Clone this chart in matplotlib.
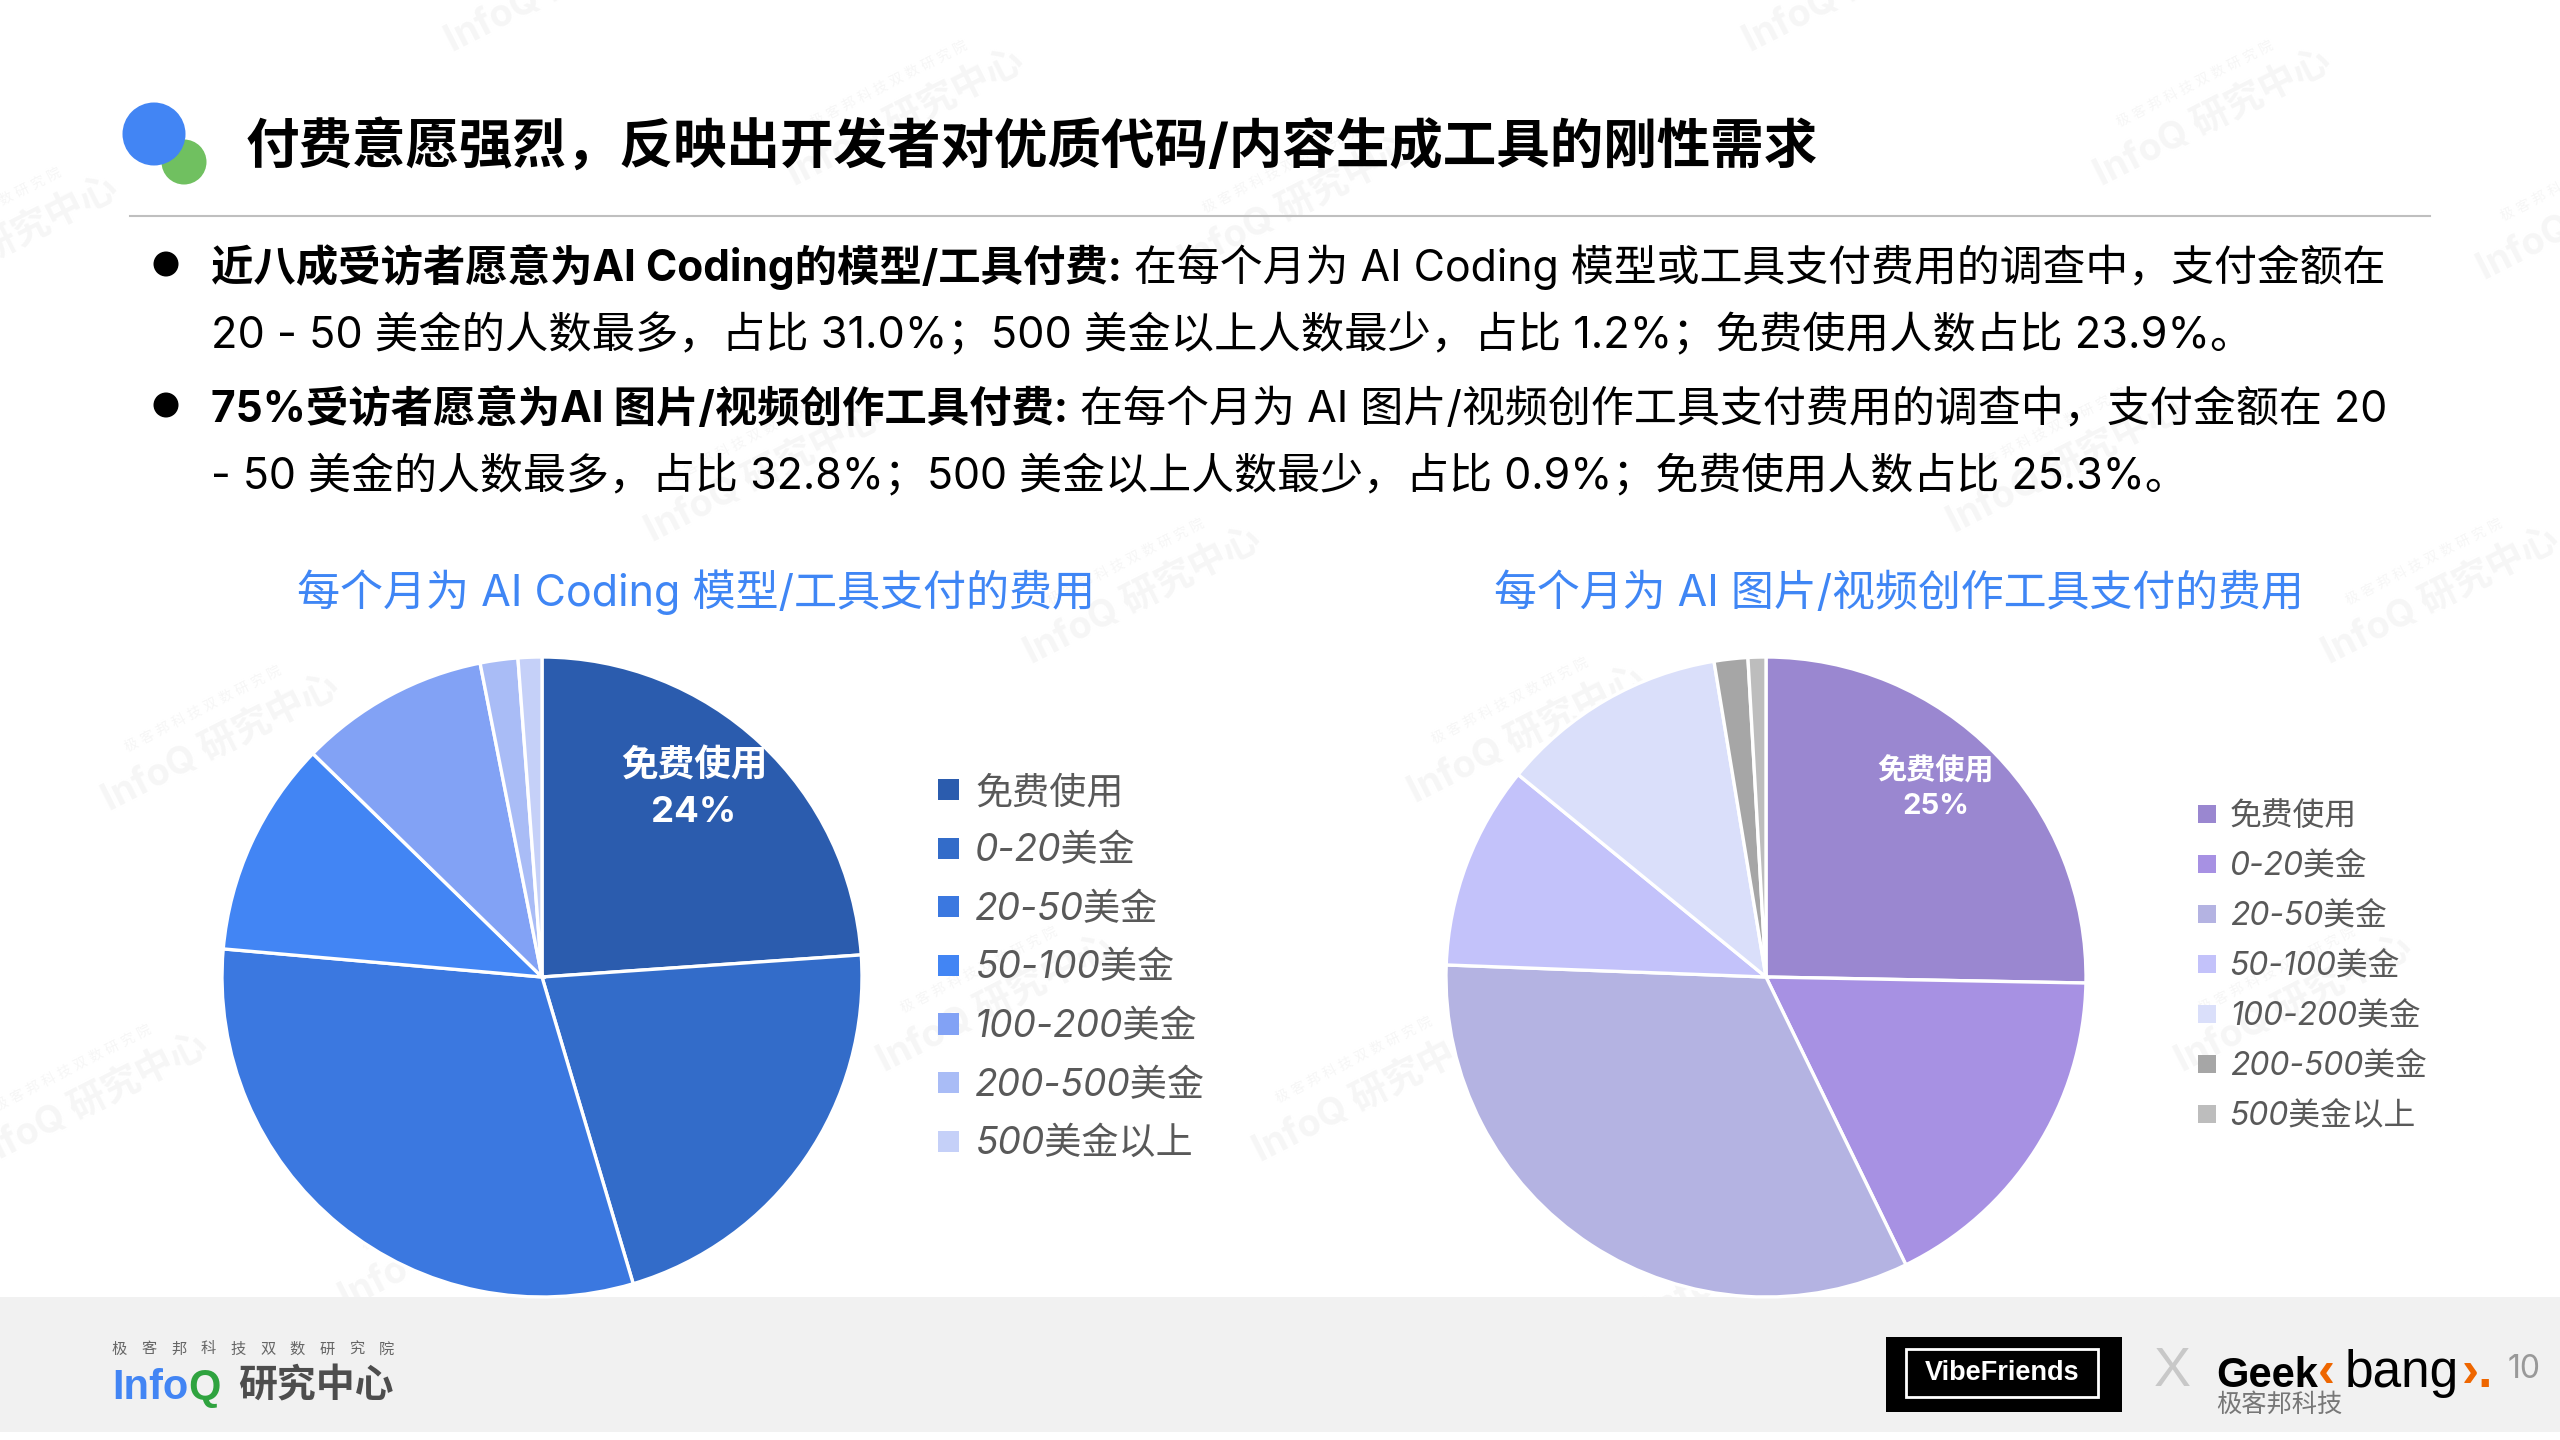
import matplotlib
matplotlib.use("Agg")
import matplotlib.pyplot as plt
from matplotlib.patches import Patch, Rectangle, Ellipse

FONTS = ['Inter', 'Noto Sans CJK SC', 'DejaVu Sans']
plt.rcParams['font.family'] = FONTS

# ---------- data ----------
categories = ['免费使用', '0-20美金', '20-50美金', '50-100美金', '100-200美金', '200-500美金', '500美金以上']
coding_values = [23.9, 21.5, 31.0, 10.9, 9.6, 1.9, 1.2]
image_values = [25.3, 17.5, 32.8, 10.3, 11.5, 1.7, 0.9]
coding_colors = ['#2b5cae', '#336cc9', '#3b78e0', '#4285f4', '#82a2f5', '#a9bcf6', '#c5d0f8']
image_colors = ['#9a87d0', '#a791e3', '#b4b3e2', '#c3c2fa', '#dadffa', '#a6a6a6', '#bdbdbd']
coding_title = '每个月为 AI Coding 模型/工具支付的费用'
image_title = '每个月为 AI 图片/视频创作工具支付的费用'
main_title = '付费意愿强烈，反映出开发者对优质代码/内容生成工具的刚性需求'
body_lines = [
    ('近八成受访者愿意为AI Coding的模型/工具付费:', '在每个月为 AI Coding 模型或工具支付费用的调查中，支付金额在'),
    ('', '20 - 50 美金的人数最多，占比 31.0%；500 美金以上人数最少，占比 1.2%；免费使用人数占比 23.9%。'),
    ('75%受访者愿意为AI 图片/视频创作工具付费:', '在每个月为 AI 图片/视频创作工具支付费用的调查中，支付金额在 20'),
    ('', '- 50 美金的人数最多，占比 32.8%；500 美金以上人数最少，占比 0.9%；免费使用人数占比 25.3%。'),
]
body_baselines = [281, 348, 422, 488]
body_sizes = [30.9, 31.2, 30.95, 30.95]
watermark_centers = [(1355, 72), (555, 72), (0, 150), (795, 125), (1590, 130), (700, 365), (1495, 365),
                     (135, 455), (935, 450), (468, 290), (1265, 285), (610, 615), (1405, 615), (55, 675),
                     (840, 670), (280, 760), (1080, 770), (345, -10), (1140, -10)]
institute = '极客邦科技双数研究院'

W, H = 2560, 1440
fig = plt.figure(figsize=(W / 100, H / 100), dpi=100, facecolor='white')
bg = fig.add_axes([0, 0, 1, 1], zorder=0)
bg.set_xlim(0, W)
bg.set_ylim(H, 0)
bg.axis('off')
fg = fig.add_axes([0, 0, 1, 1], zorder=2)
fg.set_xlim(0, W)
fg.set_ylim(H, 0)
fg.axis('off')
fg.patch.set_alpha(0)

# ---------- watermarks ----------
for wx, wy in watermark_centers:
    x, y = wx * W / 1568, wy * W / 1568
    bg.text(x, y, 'InfoQ 研究中心', fontsize=27, fontweight='bold', color='#f6f6f6', rotation=27,
            rotation_mode='anchor', ha='center', va='center', zorder=0)
    bg.text(x - 17, y - 34, '极 客 邦 科 技 双 数 研 究 院', fontsize=10, color='#f6f6f6', rotation=27,
            rotation_mode='anchor', ha='center', va='center', zorder=0)

# ---------- footer ----------
bg.add_patch(Rectangle((0, 1297), W, 135, facecolor='#f1f1f1', edgecolor='none', zorder=1))

# ---------- header ----------
bg.add_patch(Ellipse((184, 162), 45, 45, facecolor='#70c060', edgecolor='none', zorder=2))
bg.add_patch(Ellipse((154, 134), 63, 63, facecolor='#4285f4', edgecolor='none', zorder=3))
bg.text(246, 163, main_title, fontsize=38.55, fontweight='bold', color='#000000', ha='left', va='baseline', zorder=3)
bg.plot([130, 2430], [216, 216], color='#bfbfbf', lw=1.5, zorder=2)

# ---------- body ----------
fig.canvas.draw()
rend = fig.canvas.get_renderer()
for (bold, reg), yb, fs in zip(body_lines, body_baselines, body_sizes):
    x = 211
    if bold:
        t = bg.text(x, yb, bold, fontsize=30.55, fontweight='bold', color='#000000', ha='left', va='baseline', zorder=3)
        x = t.get_window_extent(rend).x1 + 12
        bg.add_patch(Ellipse((166, yb - 17), 25, 25, facecolor='black', edgecolor='none', zorder=3))
    bg.text(x, yb, reg, fontsize=fs, color='#000000', ha='left', va='baseline', zorder=3)

# ---------- pies ----------
def draw_pie(cx, cy, r, values, colors):
    ax = fig.add_axes([(cx - r) / W, 1 - (cy + r) / H, 2 * r / W, 2 * r / H], zorder=1)
    ax.pie(values, colors=colors, startangle=90, counterclock=False, radius=1,
           wedgeprops={'edgecolor': 'white', 'linewidth': 2.4})
    ax.set_xlim(-1, 1)
    ax.set_ylim(-1, 1)
    ax.set_aspect('equal')
    return ax

draw_pie(542, 977, 320, coding_values, coding_colors)
draw_pie(1766, 977, 320, image_values, image_colors)

fg.text(696, 606, coding_title, fontsize=31, color='#3f86f5', ha='center', va='baseline')
fg.text(1899, 606, image_title, fontsize=30.9, color='#3f86f5', ha='center', va='baseline')

fg.text(694, 766, categories[0], fontsize=26.4, fontweight='bold', color='white', ha='center', va='center')
fg.text(694, 812, f'{round(coding_values[0])}%', fontsize=26.4, fontweight='bold', color='white', ha='center', va='center')
fg.text(1936, 771, categories[0], fontsize=21, fontweight='bold', color='white', ha='center', va='center')
fg.text(1936, 807, f'{round(image_values[0])}%', fontsize=21, fontweight='bold', color='white', ha='center', va='center')

# ---------- legends ----------
def draw_legend(x, y, colors, fs, handle_h, spacing, pad):
    handles = [Patch(facecolor=c, edgecolor='none', label=n) for c, n in zip(colors, categories)]
    return fig.legend(handles=handles, loc='upper left', bbox_to_anchor=(x / W, 1 - y / H),
                      frameon=False, borderpad=0, borderaxespad=0,
                      handlelength=handle_h, handleheight=0.5, labelspacing=spacing, handletextpad=pad,
                      prop={'family': FONTS, 'style': 'italic', 'size': fs}, labelcolor='#595959')

draw_legend(938, 775, coding_colors, 26.7, 0.57, 0.608, 0.43)
draw_legend(2198, 801, image_colors, 22.9, 0.57, 0.60, 0.43)

# ---------- logos ----------
for i, ch in enumerate(institute):
    fg.text(112 + i * 29.6, 1349, ch, fontsize=11, color='#666666', ha='left', va='center')
t = fg.text(112, 1399, 'Info', fontsize=30, fontweight='bold', color='#4285f4', ha='left', va='baseline',
            family=['Liberation Sans'])
x1 = t.get_window_extent(rend).x1
fg.text(x1, 1399, 'Q', fontsize=30, fontweight='bold', color='#2fa33f', ha='left', va='baseline',
        family=['Liberation Sans'])
fg.text(238, 1387, '研究中心', fontsize=28, fontweight='bold', color='#4d4d4d', ha='left', va='center')

fg.add_patch(Rectangle((1886, 1337), 236, 75, facecolor='black', edgecolor='none'))
fg.add_patch(Rectangle((1906, 1349), 192, 48, facecolor='none', edgecolor='white', lw=2))
fg.text(2002, 1373, 'VibeFriends', fontsize=19.5, fontweight='bold', color='white', ha='center', va='center',
        family=['Liberation Sans'])
fg.text(2172, 1372, 'X', fontsize=40, color='#c8c8c8', ha='center', va='center', family=['Liberation Sans'])

lib = dict(ha='left', va='baseline', family=['Liberation Sans'])
fg.text(2216, 1387, 'Geek', color='#000000', fontsize=30, fontweight='bold', **lib)
fg.text(2318, 1387, '‹', color='#ee6600', fontsize=37, fontweight='bold', **lib)
fg.text(2345, 1387, 'bang', color='#000000', fontsize=37, **lib)
fg.text(2462, 1387, '›.', color='#ee6600', fontsize=37, fontweight='bold', **lib)
fg.text(2216, 1405, '极客邦科技', fontsize=18.2, color='#777777', ha='left', va='center')
fg.text(2508, 1370, '10', fontsize=23, color='#999999', ha='left', va='center')

fig.savefig('out.png', dpi=100, facecolor='white')
